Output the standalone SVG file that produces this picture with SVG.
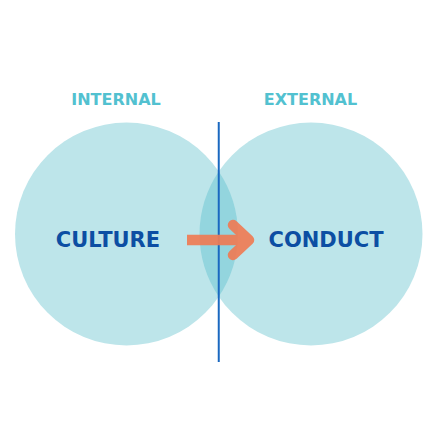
<svg xmlns="http://www.w3.org/2000/svg" width="438" height="438" viewBox="0 0 438 438">
  <style>
    .circle { fill: #bde5ea; }
    .lens { fill: #93d5de; }
    .head { font-family: "DejaVu Sans", sans-serif; font-weight: bold; font-size: 16px; fill: #52c1d0; text-anchor: middle; }
    .label { font-family: "DejaVu Sans", sans-serif; font-weight: bold; font-size: 21px; fill: #0c4ea3; text-anchor: middle; }
    .arrow { fill: none; stroke: #ef7c55; stroke-width: 10.5; stroke-linejoin: round; }
  </style>
  <rect width="438" height="438" fill="#ffffff"/>
  <g id="internal">
    <circle class="circle" cx="126.5" cy="234" r="111.5"/>
    <text class="head" x="116" y="105">INTERNAL</text>
    <text class="label" x="108" y="247">CULTURE</text>
  </g>
  <g id="external">
    <circle class="circle" cx="311" cy="234" r="111.5"/>
    <text class="head" x="310.5" y="105">EXTERNAL</text>
    <text class="label" x="326" y="247">CONDUCT</text>
  </g>
  <g id="overlap">
    <path class="lens" d="M218.75,171.4 A111.5,111.5 0 0 1 218.75,296.6 A111.5,111.5 0 0 1 218.75,171.4 Z"/>
  </g>
  <g id="connectors">
    <line x1="218.75" y1="122" x2="218.75" y2="362" stroke="#1a68c0" stroke-width="2"/>
    <g opacity="0.92">
      <path class="arrow" stroke-linecap="butt" d="M187,240 L249,240"/>
      <path class="arrow" stroke-linecap="round" d="M233,225 L249,240 L233,255"/>
    </g>
  </g>
</svg>
